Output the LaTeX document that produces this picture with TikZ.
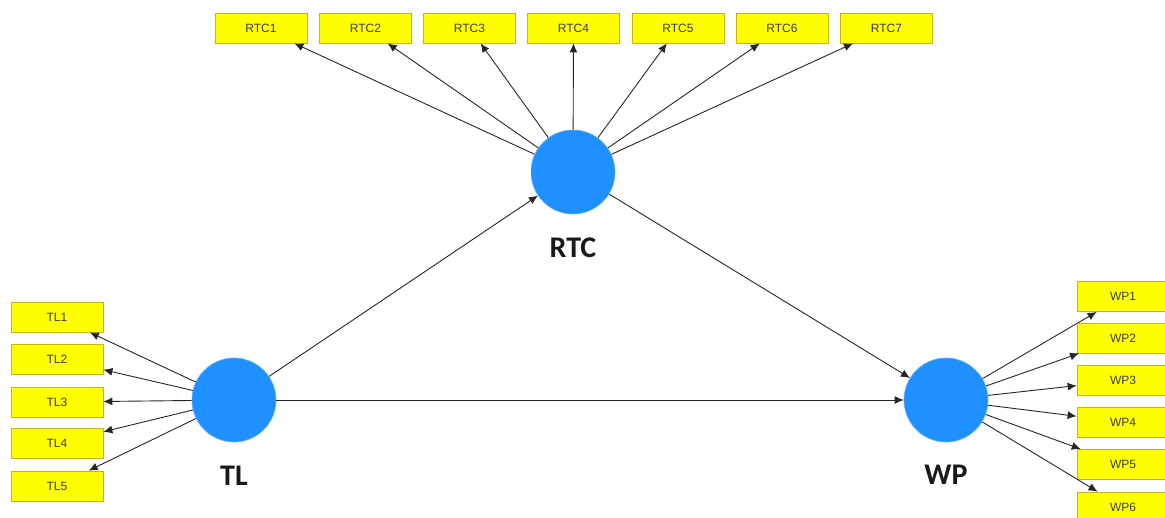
\documentclass[tikz,border=0pt]{standalone}
\usepackage{fontspec}
\setsansfont{Liberation Sans}
\newfontfamily\labfont{Carlito}
\usetikzlibrary{arrows.meta}
\definecolor{boxfill}{RGB}{255,255,0}
\definecolor{boxline}{RGB}{200,180,20}
\definecolor{latfill}{RGB}{30,144,255}
\definecolor{txtgray}{RGB}{60,60,60}
\tikzset{
  ind/.style={draw=boxline, fill=boxfill, line width=0.8pt, minimum width=92pt, minimum height=30pt, inner sep=0pt, font=\sffamily\fontsize{12}{12}\selectfont, text=txtgray},
  lat/.style={circle, fill=latfill, draw=latfill!70!white, line width=0.6pt, minimum size=84pt, inner sep=0pt},
  latlab/.style={font=\labfont\bfseries\fontsize{30}{30}\selectfont, text=black!90},
  con/.style={draw=black!85, line width=0.9pt, -{Latex[length=9pt,width=8pt]}}
}
\begin{document}
\begin{tikzpicture}[x=1pt,y=-1pt]
\useasboundingbox (0,0) rectangle (1165,517);
% latent variables
\node[lat] (rtc) at (573,172) {};
\node[lat] (tl) at (234,400) {};
\node[lat] (wp) at (946,400) {};
\node[latlab] (rtcl) at (573,248) {RTC};
\node[latlab] (tll) at (234,476) {TL};
\node[latlab] (wpl) at (946,475) {WP};
% RTC indicators
\foreach \i/\x in {1/261,2/365.5,3/469.5,4/573.5,5/678,6/782,7/886.5}{
  \node[ind] (r\i) at (\x,28) {RTC\i};
  \draw[con] (rtc) -- (r\i);
}
% TL indicators
\foreach \i/\y in {1/317,2/359,3/402,4/443,5/486}{
  \node[ind] (t\i) at (57,\y) {TL\i};
  \draw[con] (tl) -- (t\i);
}
% WP indicators
\foreach \i/\y in {1/296.5,2/338,3/380.5,4/422,5/464.5,6/507}{
  \node[ind] (w\i) at (1123,\y) {WP\i};
  \draw[con] (wp) -- (w\i);
}
% structural paths
\draw[con] (tl) -- (rtc);
\draw[con] (rtc) -- (wp);
\draw[con] (tl) -- (wp);
\end{tikzpicture}
\end{document}
